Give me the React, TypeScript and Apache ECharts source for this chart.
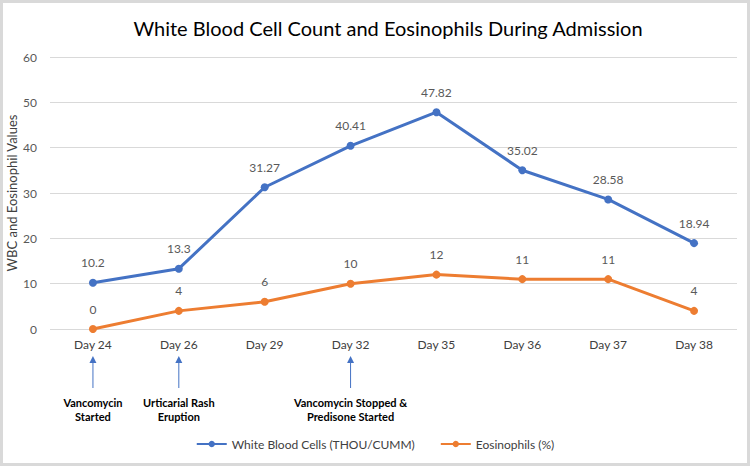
import React, { useEffect, useRef } from "react";
import * as echarts from "echarts";

const days = ["Day 24", "Day 26", "Day 29", "Day 32", "Day 35", "Day 36", "Day 37", "Day 38"];
const wbc = [10.2, 13.3, 31.27, 40.41, 47.82, 35.02, 28.58, 18.94];
const eosinophils = [0, 4, 6, 10, 12, 11, 11, 4];
const events = [
  { day: "Day 24", text: "Vancomycin\nStarted" },
  { day: "Day 26", text: "Urticarial Rash\nEruption" },
  { day: "Day 32", text: "Vancomycin Stopped &\nPredisone Started" },
];

const FONT = "Lato, 'Open Sans', sans-serif";
const BLUE = "#4472C4";
const ORANGE = "#ED7D31";

export default function App() {
  const ref = useRef<HTMLDivElement>(null);

  useEffect(() => {
    if (!ref.current) return;
    const chart = echarts.init(ref.current, null, { renderer: "svg" });
    chart.setOption({
      animation: false,
      backgroundColor: "#ffffff",
      textStyle: { fontFamily: FONT },
      title: {
        text: "White Blood Cell Count and Eosinophils During Admission",
        left: 380,
        top: 10,
        textAlign: "center",
        textStyle: { fontFamily: FONT, fontSize: 20, fontWeight: "normal", color: "#000000" },
      },
      grid: { left: 47, right: 10, top: 54, bottom: 134, containLabel: false, outerBoundsMode: "none" },
      legend: {
        top: 430,
        left: "center",
        itemWidth: 30,
        itemHeight: 8,
        itemGap: 25,
        textStyle: { fontFamily: FONT, fontSize: 12, color: "#404040" },
        data: ["White Blood Cells (THOU/CUMM)", "Eosinophils (%)"],
      },
      xAxis: {
        type: "category",
        data: days,
        boundaryGap: true,
        axisLine: { show: false },
        axisTick: { show: false },
        axisLabel: { fontFamily: FONT, fontSize: 12, color: "#404040", margin: 9 },
      },
      yAxis: {
        type: "value",
        min: 0,
        max: 60,
        interval: 10,
        name: "WBC and Eosinophil Values",
        nameLocation: "middle",
        nameGap: 32,
        nameMoveOverlap: false,
        nameTextStyle: { fontFamily: FONT, fontSize: 13, color: "#404040" },
        axisLine: { show: false },
        axisTick: { show: false },
        axisLabel: { fontFamily: FONT, fontSize: 12, color: "#595959", margin: 13 },
        splitLine: { lineStyle: { color: "#d9d9d9", width: 1 } },
      },
      series: [
        {
          name: "White Blood Cells (THOU/CUMM)",
          type: "line",
          data: wbc,
          symbol: "circle",
          symbolSize: 8,
          lineStyle: { color: BLUE, width: 3 },
          itemStyle: { color: BLUE },
          label: { show: true, position: "top", distance: 10, fontFamily: FONT, fontSize: 12, color: "#595959" },
        },
        {
          name: "Eosinophils (%)",
          type: "line",
          data: eosinophils,
          symbol: "circle",
          symbolSize: 8,
          lineStyle: { color: ORANGE, width: 3 },
          itemStyle: { color: ORANGE },
          label: { show: true, position: "top", distance: 10, fontFamily: FONT, fontSize: 12, color: "#595959" },
        },
      ],
    });

    // event markers under the category axis: arrow pointing up + bold caption
    const baseY = chart.convertToPixel({ yAxisIndex: 0 }, 0) as number;
    const graphics: any[] = [];
    events.forEach((ev) => {
      const x = chart.convertToPixel({ xAxisIndex: 0 }, ev.day) as number;
      const top = baseY + 27;
      const bottom = baseY + 59;
      graphics.push({
        type: "line",
        shape: { x1: x, y1: top + 5, x2: x, y2: bottom },
        style: { stroke: BLUE, lineWidth: 1 },
      });
      graphics.push({
        type: "polygon",
        shape: { points: [[x, top], [x - 3.5, top + 7], [x + 3.5, top + 7]] },
        style: { fill: BLUE },
      });
      graphics.push({
        type: "text",
        x,
        y: bottom + 7,
        style: {
          text: ev.text,
          align: "center",
          verticalAlign: "top",
          fontFamily: FONT,
          fontSize: 11,
          fontWeight: "bold",
          lineHeight: 14,
          fill: "#000000",
        },
      });
    });
    chart.setOption({ graphic: graphics });

    return () => chart.dispose();
  }, []);

  return (
    <div
      style={{
        position: "fixed",
        left: 0,
        top: 0,
        width: 750,
        height: 466,
        boxSizing: "border-box",
        border: "3px solid #d9d9d9",
        background: "#ffffff",
      }}
    >
      <div ref={ref} style={{ width: 744, height: 460 }} />
    </div>
  );
}
